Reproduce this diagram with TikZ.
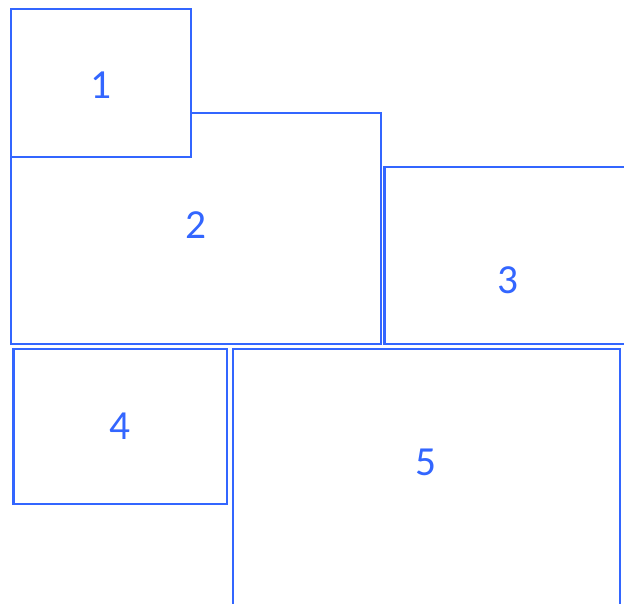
\documentclass[tikz,border=0pt]{standalone}
\usepackage{fontspec}
\setmainfont{Carlito}
\usepackage{tikz}
\usepackage{xcolor}
\definecolor{PanelBlue}{HTML}{3366FF}
\tikzset{
    % Panel outline style
    panelbox/.style={
        draw=PanelBlue,
        fill=white,
        line width=1.8pt
    },
    % Panel number style
    panellabel/.style={
        text=PanelBlue,
        inner sep=0pt,
        font=\fontsize{31}{36}\selectfont
    }
}
\begin{document}
\begin{tikzpicture}[x=0.75pt, y=-0.75pt]
        \useasboundingbox (0,0) rectangle (624,603);
        \clip (0,0) rectangle (624,603);

        % Top row: panels 1 and 2 overlap, 1 sits on top
        \draw[panelbox] (11,113) rectangle (381,344);
        \node[panellabel] (p2) at (196,225) {2};
        \draw[panelbox] (11,9) rectangle (191,157);
        \node[panellabel] (p1) at (101,85) {1};

        % Right panel, runs off the edge
        \draw[panelbox] (384.5,167) rectangle (640,344);
        \node[panellabel] (p3) at (508,280) {3};

        % Bottom row
        \draw[panelbox] (13.5,349) rectangle (227,504);
        \node[panellabel] (p4) at (120,426) {4};
        \draw[panelbox] (233,349) rectangle (620,610);
        \node[panellabel] (p5) at (426,462) {5};
    \end{tikzpicture}
\end{document}
